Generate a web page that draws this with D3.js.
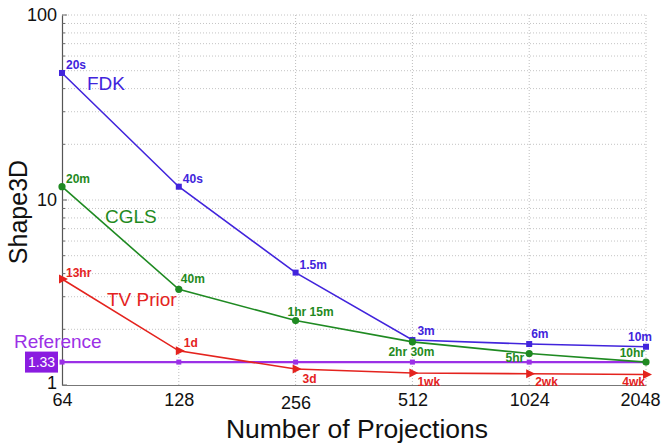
<!DOCTYPE html>
<html>
<head>
<meta charset="utf-8">
<script src="https://cdn.jsdelivr.net/npm/d3@7"></script>
<style>
  html, body { margin: 0; padding: 0; background: #fff; }
  svg { display: block; font-family: "Liberation Sans", Arial, Helvetica, sans-serif; }
</style>
</head>
<body>
<svg id="chart" width="665" height="444"></svg>
<script>
// Number of projections (x axis, log2)
const projections = [64, 128, 256, 512, 1024, 2048];
const xTickLabels = ["64", "128", "256", "512", "1024", "2048"];
const yTickValues = [1, 10, 100];

// Shape3D score per reconstruction method
const fdkScores  = [48.6, 11.8, 4.05, 1.75, 1.665, 1.61];
const cglsScores = [11.8, 3.29, 2.23, 1.71, 1.48, 1.33];
const tvScores   = [3.74, 1.53, 1.22, 1.16, 1.15, 1.14];
const referenceScore = 1.33;

// Reconstruction run times shown beside each point
const fdkTimes  = ["20s", "40s", "1.5m", "3m", "6m", "10m"];
const cglsTimes = ["20m", "40m", "1hr 15m", "2hr 30m", "5hr", "10hr"];
const tvTimes   = ["13hr", "1d", "3d", "1wk", "2wk", "4wk"];

const methodNames = ["FDK", "CGLS", "TV Prior", "Reference"];

// ---- layout ----
const svg = d3.select("#chart");
const plotLeft = 62, plotRight = 646, plotTop = 15, plotBottom = 385;

const x = d3.scaleLog().base(2).domain([64, 2048]).range([plotLeft, plotRight]);
const y = d3.scaleLog().base(10).domain([1, 100]).range([plotBottom, plotTop]);

const colors = {
  fdk: "#4124dc",
  cgls: "#1f8a22",
  tv: "#e4231e",
  ref: "#9b30e6"
};

// ---- grid ----
const minorTicks = [];
[1, 10].forEach(d => { for (let k = 1; k <= 10; k++) minorTicks.push(d * k); });
const yGrid = Array.from(new Set(minorTicks)).filter(v => v > 1 && v <= 100);

const grid = svg.append("g");
grid.selectAll("line.h").data(yGrid).join("line")
  .attr("x1", plotLeft).attr("x2", plotRight)
  .attr("y1", d => y(d)).attr("y2", d => y(d))
  .attr("stroke", "#c4c4c4").attr("stroke-width", 1)
  .attr("stroke-dasharray", "1,2");
grid.selectAll("line.v").data(projections.slice(1)).join("line")
  .attr("x1", d => x(d)).attr("x2", d => x(d))
  .attr("y1", plotTop).attr("y2", plotBottom)
  .attr("stroke", "#bdbdbd").attr("stroke-width", 1)
  .attr("stroke-dasharray", "1,2");

// ---- axes ----
const yAxis = d3.axisLeft(y)
  .tickValues(yTickValues)
  .tickFormat(d3.format("d"))
  .tickSize(0)
  .tickPadding(5);
const gy = svg.append("g").attr("transform", `translate(${plotLeft},0)`).call(yAxis);
gy.select(".domain").attr("stroke", "#555").attr("stroke-width", 1.2);
gy.selectAll("text").attr("font-size", 18).attr("fill", "#111")
  .attr("font-family", "'Liberation Sans', Arial, sans-serif")
  .attr("dy", d => d === 1 ? "0.2em" : "0.32em");

// small inward ticks on the left axis
svg.append("g").selectAll("line").data(yGrid.concat([1])).join("line")
  .attr("x1", plotLeft).attr("x2", d => plotLeft + ([1, 10, 100].includes(d) ? 5 : 3))
  .attr("y1", d => y(d)).attr("y2", d => y(d))
  .attr("stroke", "#666").attr("stroke-width", 1);

const xAxis = d3.axisBottom(x)
  .tickValues(projections)
  .tickFormat((d, i) => xTickLabels[i])
  .tickSize(0)
  .tickPadding(8);
const gx = svg.append("g").attr("transform", `translate(0,${plotBottom})`).call(xAxis);
gx.select(".domain").attr("stroke", "#777").attr("stroke-width", 1);
gx.selectAll("text").attr("font-size", 18).attr("fill", "#111")
  .attr("font-family", "'Liberation Sans', Arial, sans-serif")
  .attr("dx", (d, i) => i === projections.length - 1 ? -6 : 0)
  .attr("dy", (d, i) => i === 2 ? "0.87em" : "0.71em");

// axis titles
svg.append("text")
  .attr("transform", `translate(27,212) rotate(-90)`)
  .attr("text-anchor", "middle")
  .attr("font-size", 25).attr("fill", "#111")
  .text("Shape3D");
svg.append("text")
  .attr("x", 357).attr("y", 438)
  .attr("text-anchor", "middle")
  .attr("font-size", 26.5).attr("fill", "#111")
  .text("Number of Projections");

// ---- series ----
const line = d3.line().x(d => x(d.p)).y(d => y(d.v));
const toPoints = vals => projections.map((p, i) => ({ p, v: vals[i] }));

// reference line
const refPoints = projections.map(p => ({ p, v: referenceScore }));
svg.append("path").datum(refPoints).attr("d", line)
  .attr("fill", "none").attr("stroke", colors.ref).attr("stroke-width", 2.2);
svg.append("g").selectAll("rect").data(refPoints).join("rect")
  .attr("x", d => x(d.p) - 2.5).attr("y", d => y(d.v) - 2.5)
  .attr("width", 5).attr("height", 5).attr("fill", colors.ref);

function drawSeries(vals, color, marker) {
  const pts = toPoints(vals);
  svg.append("path").datum(pts).attr("d", line)
    .attr("fill", "none").attr("stroke", color).attr("stroke-width", 1.6);
  const g = svg.append("g");
  if (marker === "square") {
    g.selectAll("rect").data(pts).join("rect")
      .attr("x", d => x(d.p) - 3).attr("y", d => y(d.v) - 3)
      .attr("width", 6).attr("height", 6).attr("fill", color);
  } else if (marker === "circle") {
    g.selectAll("circle").data(pts).join("circle")
      .attr("cx", d => x(d.p)).attr("cy", d => y(d.v)).attr("r", 3.6)
      .attr("fill", color);
  } else {
    g.selectAll("path").data(pts).join("path")
      .attr("d", d => {
        const cx = x(d.p), cy = y(d.v);
        return `M${cx - 3},${cy - 4.5}L${cx + 6},${cy}L${cx - 3},${cy + 4.5}Z`;
      })
      .attr("fill", color);
  }
  return pts;
}

const fdkPts = drawSeries(fdkScores, colors.fdk, "square");
const cglsPts = drawSeries(cglsScores, colors.cgls, "circle");
const tvPts = drawSeries(tvScores, colors.tv, "triangle");

// run-time labels: offsets from each point
const fdkPlace  = [[4, -4, "start"], [4, -4, "start"], [4, -4, "start"], [5, -5, "start"], [2, -6, "start"], [6, -6, "end"]];
const cglsPlace = [[4, -4, "start"], [2, -6, "start"], [-8, -5, "start"], [-1, 14, "middle"], [-5, 8, "end"], [-1, -5, "end"]];
const tvPlace   = [[4, -2, "start"], [5, -4, "start"], [7, 14, "start"], [5, 13, "start"], [6, 12, "start"], [-1, 12, "end"]];

function drawTimes(pts, times, place, color) {
  svg.append("g").selectAll("text").data(pts).join("text")
    .attr("x", (d, i) => x(d.p) + place[i][0])
    .attr("y", (d, i) => y(d.v) + place[i][1])
    .attr("text-anchor", (d, i) => place[i][2])
    .attr("font-size", 12).attr("font-weight", "bold")
    .attr("fill", color)
    .text((d, i) => times[i]);
}
drawTimes(fdkPts, fdkTimes, fdkPlace, colors.fdk);
drawTimes(cglsPts, cglsTimes, cglsPlace, colors.cgls);
drawTimes(tvPts, tvTimes, tvPlace, colors.tv);

// method names written beside their curves
const nameSpots = [[87, 90, colors.fdk], [105, 223, colors.cgls], [107, 306, colors.tv], [14, 348, colors.ref]];
svg.append("g").selectAll("text").data(methodNames).join("text")
  .attr("x", (d, i) => nameSpots[i][0])
  .attr("y", (d, i) => nameSpots[i][1])
  .attr("font-size", 19)
  .attr("fill", (d, i) => nameSpots[i][2])
  .text(d => d);

// value tag for the reference level
const tag = svg.append("g");
tag.append("rect")
  .attr("x", 25).attr("y", y(referenceScore) - 10.5)
  .attr("width", 33).attr("height", 21)
  .attr("fill", "#8a1ce0");
tag.append("text")
  .attr("x", 41.5).attr("y", y(referenceScore))
  .attr("dy", "0.36em")
  .attr("text-anchor", "middle")
  .attr("font-size", 14).attr("fill", "#fff")
  .text(d3.format(".2f")(referenceScore));
</script>
</body>
</html>
